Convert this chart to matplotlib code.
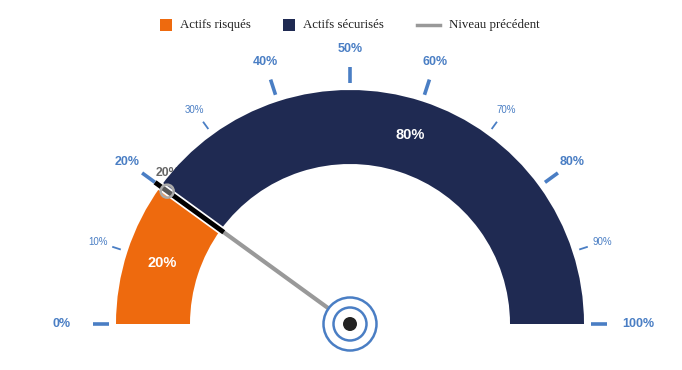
import numpy as np
import matplotlib
matplotlib.use('Agg')
import matplotlib.pyplot as plt
from matplotlib.patches import Wedge, Circle, Rectangle

# data
series_names = ['Actifs risqués', 'Actifs sécurisés']
series_values = [20, 80]
series_colors = ['#EE6A0E', '#1F2A52']
previous_name = 'Niveau précédent'
previous_value = 20
major_ticks = [0, 20, 40, 50, 60, 80, 100]
minor_ticks = [10, 30, 70, 90]

W, H = 682, 370
CX, CY = 350, H - 324      # gauge centre (pixel coords, y up)
R_OUT, R_IN = 234, 160
BLUE = '#4A7EC4'

plt.rcParams['font.family'] = ['Liberation Sans', 'DejaVu Sans']

fig = plt.figure(figsize=(W / 100, H / 100), dpi=100)
ax = fig.add_axes([0, 0, 1, 1])
ax.set_xlim(0, W)
ax.set_ylim(0, H)
ax.set_aspect('equal')
ax.axis('off')


def ang(v):
    # value in % -> angle in degrees (0% left, 100% right)
    return 180 - 1.8 * v


def pol(r, v):
    a = np.radians(ang(v))
    return CX + r * np.cos(a), CY + r * np.sin(a)


# previous level label (partly hidden behind the arc)
ax.text(168, H - 173, f'{previous_value}%', color='#666666', fontsize=8.8,
        fontweight='bold', ha='center', va='center', zorder=1)

# gauge bands
start = 0
for val, col in zip(series_values, series_colors):
    ax.add_patch(Wedge((CX, CY), R_OUT, ang(start + val), ang(start),
                       width=R_OUT - R_IN, facecolor=col, edgecolor='none', zorder=2))
    start += val

# value labels inside the bands
ax.text(162, H - 263, f'{series_values[0]}%', color='white', fontsize=10.5,
        fontweight='bold', ha='center', va='center', zorder=5)
ax.text(410, H - 135, f'{series_values[1]}%', color='white', fontsize=10.5,
        fontweight='bold', ha='center', va='center', zorder=5)

# ticks and tick labels
for v in major_ticks:
    x0, y0 = pol(241, v)
    x1, y1 = pol(257, v)
    ax.plot([x0, x1], [y0, y1], color=BLUE, lw=2.6, solid_capstyle='butt', zorder=3)
    r = 288 if v in (0, 100) else 275
    lx, ly = pol(r, v)
    ax.text(lx, ly, f'{v}%', color=BLUE, fontsize=9, fontweight='bold',
            ha='center', va='center', zorder=3)
for v in minor_ticks:
    x0, y0 = pol(241, v)
    x1, y1 = pol(250, v)
    ax.plot([x0, x1], [y0, y1], color=BLUE, lw=1.3, solid_capstyle='butt', zorder=3)
    lx, ly = pol(265, v)
    ax.text(lx, ly, f'{v}%', color=BLUE, fontsize=7,
            ha='center', va='center', zorder=3)

# previous level marker: black line across the band, grey needle
x0, y0 = pol(156, previous_value)
x1, y1 = pol(241, previous_value)
ax.plot([x0, x1], [y0, y1], color='white', lw=6, solid_capstyle='butt', zorder=6)
ax.plot([x0, x1], [y0, y1], color='black', lw=3.5, solid_capstyle='butt', zorder=7)
nx, ny = pol(226, previous_value)
ax.plot([CX, nx], [CY, ny], color='#999999', lw=3, zorder=4)
ax.add_patch(Circle((nx, ny), 6.5, facecolor=(1, 1, 1, 0.35),
                    edgecolor='#AAAAAA', lw=1.8, zorder=8))

# pivot
ax.add_patch(Circle((CX, CY), 26.5, facecolor='white', edgecolor=BLUE, lw=1.8, zorder=9))
ax.add_patch(Circle((CX, CY), 16.5, facecolor='white', edgecolor=BLUE, lw=1.8, zorder=9))
ax.add_patch(Circle((CX, CY), 7, facecolor='#222222', edgecolor='none', zorder=10))

# legend
ly = H - 25
ax.add_patch(Rectangle((160, ly - 6), 12, 12, facecolor=series_colors[0], edgecolor='none'))
ax.text(180, ly, series_names[0], fontsize=9.3, family='Liberation Serif',
        color='#222222', ha='left', va='center')
ax.add_patch(Rectangle((283, ly - 6), 12, 12, facecolor=series_colors[1], edgecolor='none'))
ax.text(303, ly, series_names[1], fontsize=9.3, family='Liberation Serif',
        color='#222222', ha='left', va='center')
ax.plot([417, 440], [ly, ly], color='#999999', lw=2.5)
ax.text(449, ly, previous_name, fontsize=9.3, family='Liberation Serif',
        color='#222222', ha='left', va='center')

fig.savefig('out.png', dpi=100)
